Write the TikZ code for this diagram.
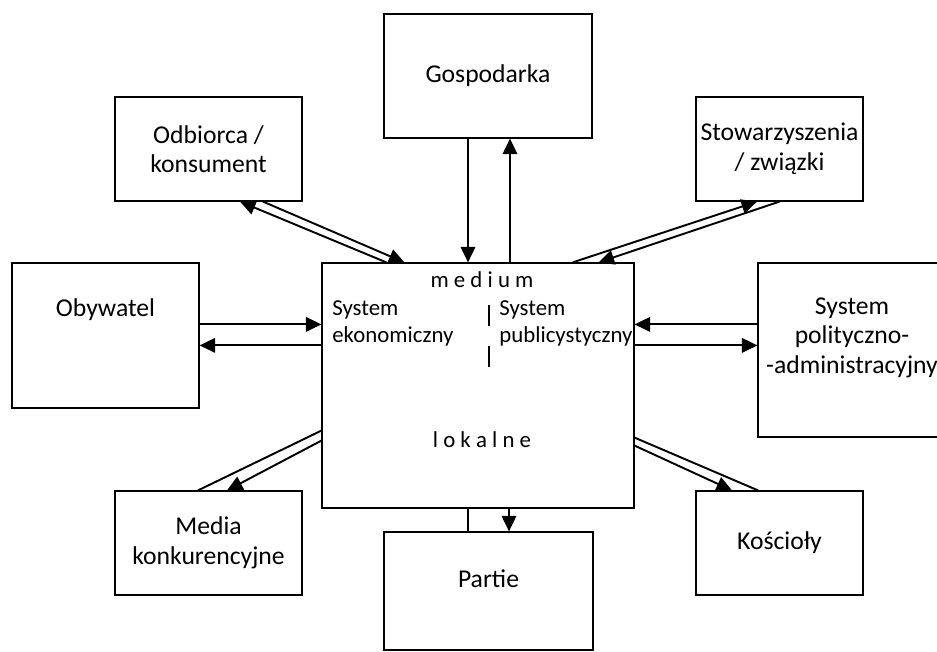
\documentclass[tikz,border=0pt]{standalone}
\usepackage{fontspec}
\setmainfont{Carlito}
\usetikzlibrary{arrows.meta}

\tikzset{
  box/.style={draw, line width=0.7pt, align=center, inner sep=0pt},
  midtext/.style={inner sep=0pt, font=\fontsize{13}{15.5}\selectfont},
  link/.style={line width=1.1pt},
  linkarr/.style={line width=1.1pt, -{Triangle[length=0.31cm, width=0.29cm]}},
}

\begin{document}
\begin{tikzpicture}[x=0.02cm, y=-0.02cm, font=\fontsize{14.6}{16.8}\selectfont]
    \useasboundingbox (0,0) rectangle (937,652);
    \clip (0,0) rectangle (937,652);

    \node[box, minimum width=6.24cm, minimum height=4.9cm] (cent) at (478,385.5) {};
    \node[box, minimum width=4.16cm, minimum height=2.48cm] (gosp) at (488,76) {Gospodarka};
    \node[box, minimum width=3.74cm, minimum height=2.08cm] (odb) at (208.5,149) {Odbiorca /\\konsument};
    \node[box, minimum width=3.34cm, minimum height=2.08cm] (stow) at (779.5,149) {Stowarzyszenia\\/ związki};
    \node[box, minimum width=3.74cm, minimum height=2.9cm, text depth=1.12cm] (oby) at (105.5,335.5) {Obywatel};
    \node[box, minimum width=3.76cm, minimum height=3.48cm, text depth=0.58cm] (pol) at (852,350) {System\\polityczno-\\-administracyjny};
    \node[box, minimum width=3.74cm, minimum height=2.08cm] (media) at (208.5,543) {Media\\konkurencyjne};
    \node[box, minimum width=4.18cm, minimum height=2.36cm, text depth=0.5cm] (part) at (488.5,591) {Partie};
    \node[box, minimum width=3.34cm, minimum height=2.08cm] (kos) at (779.5,543) {Kościoły};

    \node[midtext, anchor=base] (med) at (482,287) {m e d i u m};
    \node[midtext, anchor=north west, align=left] (ekon) at (332,300) {System\\ekonomiczny};
    \node[midtext, anchor=north west, align=left] (publ) at (499,300) {System\\publicystyczny};
    \node[midtext, anchor=base] (lok) at (482,447) {l o k a l n e};
    \draw[line width=0.7pt] (489,305) -- (489,326) (489,346) -- (489,367);

    \draw[linkarr] ([xshift=-0.4cm]gosp.south) -- ([xshift=-0.4cm]gosp.south |- cent.north);
    \draw[linkarr] ([xshift=0.44cm]gosp.south |- cent.north) -- ([xshift=0.44cm]gosp.south);
    \draw[link] ([xshift=-0.41cm]part.north |- cent.south) -- ([xshift=-0.41cm]part.north);
    \draw[linkarr] ([xshift=0.41cm]part.north |- cent.south) -- ([xshift=0.41cm]part.north);

    \draw[linkarr] ([yshift=-1.24cm]cent.north west -| oby.east) -- ([yshift=-1.24cm]cent.north west);
    \draw[linkarr] ([yshift=-1.66cm]cent.north west) -- ([yshift=-1.66cm]cent.north west -| oby.east);
    \draw[linkarr] ([yshift=-1.24cm]cent.north east -| pol.west) -- ([yshift=-1.24cm]cent.north east);
    \draw[linkarr] ([yshift=-1.66cm]cent.north east) -- ([yshift=-1.66cm]cent.north east -| pol.west);

    \draw[linkarr] ([xshift=1.3cm]cent.north west) -- ([xshift=0.63cm]odb.south);
    \draw[linkarr] ([xshift=1.09cm]odb.south) -- ([xshift=1.66cm]cent.north west);
    \draw[linkarr] ([xshift=-1.24cm]cent.north east) -- ([xshift=-0.45cm]stow.south);
    \draw[linkarr] (stow.south) -- ([xshift=-0.72cm]cent.north east);
    \draw[link] ([yshift=1.56cm]cent.south west) -- ([xshift=-0.21cm]media.north);
    \draw[linkarr] ([yshift=1.36cm]cent.south west) -- ([xshift=0.37cm]media.north);
    \draw[link] ([yshift=1.42cm]cent.south east) -- ([xshift=-0.43cm]kos.north);
    \draw[linkarr] ([yshift=1.26cm]cent.south east) -- ([xshift=-0.95cm]kos.north);
\end{tikzpicture}
\end{document}
